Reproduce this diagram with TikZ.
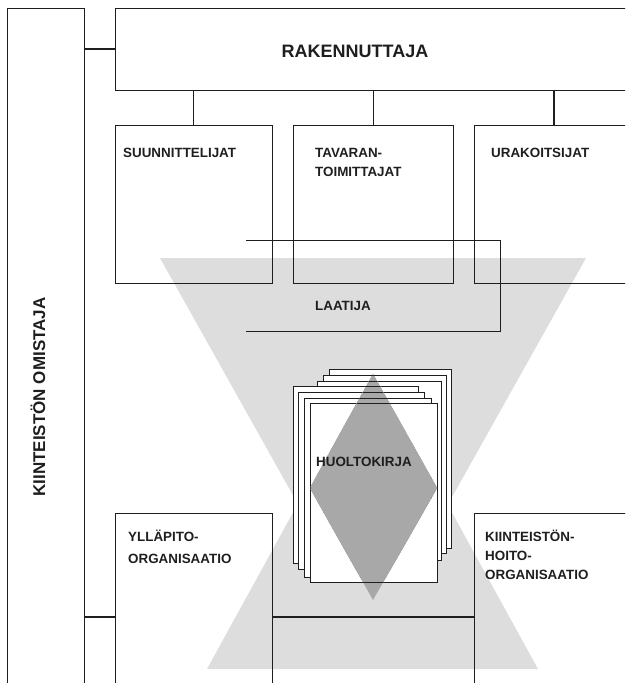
\documentclass[tikz,border=0pt]{standalone}
\usepackage{fontspec}
\setmainfont{Liberation Sans}
\definecolor{ln}{RGB}{30,30,30}
\definecolor{lgray}{RGB}{221,221,221}
\definecolor{dgray}{RGB}{168,168,168}
\newcommand\lblfont{\fontsize{13.4}{15}\selectfont\bfseries}
\begin{document}
\begin{tikzpicture}[x=1pt,y=-1pt,
  orgbox/.style={draw=ln, line width=0.9pt, inner sep=0pt, outer sep=0pt, anchor=north west},
  conn/.style={draw=ln, line width=1.8pt},
  medconn/.style={draw=ln, line width=1.3pt},
  thinconn/.style={draw=ln, line width=0.8pt},
  lbl/.style={font=\lblfont, text=ln, inner sep=0pt, anchor=base west},
  pagestyle/.style={draw=ln, line width=0.8pt}]
\useasboundingbox (0,0) rectangle (625,683);
\clip (0,0) rectangle (625,683);
% grey hourglass
\fill[lgray] (160,258) -- (586,258) -- (373,638) -- cycle;
\fill[lgray] (207,669) -- (538,669) -- (372.5,368) -- cycle;
% boxes
\node[orgbox, minimum width=77pt, minimum height=713pt] (omist) at (7,8) {};
\node[orgbox, minimum width=525pt, minimum height=82pt] (rak) at (115,8) {};
\node[orgbox, minimum width=157pt, minimum height=158pt] (suun) at (115,125) {};
\node[orgbox, minimum width=160pt, minimum height=158pt] (tav) at (293,125) {};
\node[orgbox, minimum width=160pt, minimum height=158pt] (urak) at (474,125) {};
\node[orgbox, minimum width=157pt, minimum height=208pt] (yll) at (115,513) {};
\node[orgbox, minimum width=160pt, minimum height=208pt] (kiint) at (474,513) {};
% connectors
\draw[conn] (omist.east |- rak.west) -- (rak.west);
\draw[conn] (rak.south -| suun.north) -- (suun.north);
\draw[thinconn] (rak.south -| tav.north) -- (tav.north);
\draw[medconn] (rak.south -| urak.north) -- (urak.north);
\draw[conn] (omist.east |- yll.west) -- (yll.west);
\draw[conn] (yll.east) -- (kiint.west);
% laatija bracket
\coordinate (lq1) at (246,240);
\coordinate (lq2) at (500,240);
\coordinate (lq3) at (500,331);
\coordinate (lq4) at (246,331);
\draw[thinconn] (lq1) -- (lq2) -- (lq3) -- (lq4);
% book pages
\newcommand\pagestack[1]{%
  \foreach \xa/\ya/\xb/\yb in {329/369/451/548, 323/375/446/553, 317/381/441/560,
                               293/386/418/563, 298/392/424/569, 304/398/431/577, 310/403/437/582}
    {\filldraw[pagestyle, fill=#1] (\xa,\ya) rectangle (\xb,\yb);}}
\pagestack{white}
\begin{scope}
  \clip (373,374) -- (437,488) -- (373,600) -- (310,488) -- cycle;
  \fill[dgray] (300,360) rectangle (450,610);
  \pagestack{dgray}
\end{scope}
\coordinate (book) at (373,492);
% labels
\node[font=\fontsize{18}{20}\selectfont\bfseries, text=ln, inner sep=0pt, anchor=base] (rakt) at (355,57) {RAKENNUTTAJA};
\node[font=\fontsize{17}{20}\selectfont\bfseries, text=ln, inner sep=0pt, rotate=90, anchor=base] (omt) at (45,397) {KIINTEISTÖN OMISTAJA};
\node[lbl] (suunt) at (123,157) {SUUNNITTELIJAT};
\node[lbl] (tavt1) at (315,157) {TAVARAN-};
\node[lbl] (tavt2) at (315,176) {TOIMITTAJAT};
\node[lbl] (urakt) at (491,157) {URAKOITSIJAT};
\node[lbl] (laatija) at (315,310) {LAATIJA};
\node[lbl] (huolto) at (316,466) {HUOLTOKIRJA};
\node[lbl] (yllt1) at (128,541) {YLLÄPITO-};
\node[lbl] (yllt2) at (128,563) {ORGANISAATIO};
\node[lbl] (kiit1) at (485,541) {KIINTEISTÖN-};
\node[lbl] (kiit2) at (485,560) {HOITO-};
\node[lbl] (kiit3) at (485,579) {ORGANISAATIO};
\end{tikzpicture}
\end{document}
